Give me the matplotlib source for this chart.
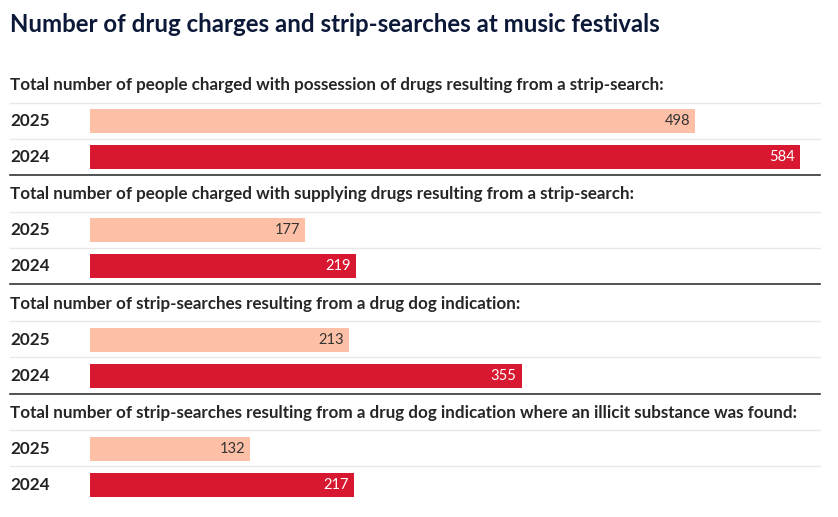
import matplotlib
matplotlib.use("Agg")
import matplotlib.pyplot as plt

TITLE = "Number of drug charges and strip-searches at music festivals"
HEADINGS = [
    "Total number of people charged with possession of drugs resulting from a strip-search:",
    "Total number of people charged with supplying drugs resulting from a strip-search:",
    "Total number of strip-searches resulting from a drug dog indication:",
    "Total number of strip-searches resulting from a drug dog indication where an illicit substance was found:",
]
YEARS = ["2025", "2024"]
VALUES_2025 = [498, 177, 213, 132]
VALUES_2024 = [584, 219, 355, 217]

COLORS = {"2025": "#fdc0a7", "2024": "#d81830"}
LABEL_COLORS = {"2025": "#333333", "2024": "#ffffff"}

W, H, DPI = 838, 517, 100
FONT = "Lato"

# layout in pixels (top-down)
GROUP_TOP = 85       # heading centre of first group
GROUP_STEP = 109.3
ROW_OFFSETS = [36, 72]
BAR_H = 24
LEFT, BAR_LEFT, BAR_RIGHT, RIGHT = 10, 90, 800, 820

fig = plt.figure(figsize=(W / DPI, H / DPI), dpi=DPI)
lay = fig.add_axes([0, 0, 1, 1])
lay.set_xlim(0, W)
lay.set_ylim(H, 0)
lay.axis("off")

bars = fig.add_axes([BAR_LEFT / W, 0, (BAR_RIGHT - BAR_LEFT) / W, 1])
bars.set_ylim(H, 0)
bars.axis("off")
bars.patch.set_alpha(0)

lay.text(LEFT, 25, TITLE, fontsize=17.3, fontweight="bold", color="#0b1838",
         family=FONT, va="center", ha="left")

series = {"2025": VALUES_2025, "2024": VALUES_2024}
for g, heading in enumerate(HEADINGS):
    top = GROUP_TOP + g * GROUP_STEP
    lay.text(LEFT, top, heading, fontsize=12.25, fontweight="bold", color="#262626",
             family=FONT, va="center", ha="left")
    for r, year in enumerate(YEARS):
        yc = top + ROW_OFFSETS[r]
        lay.plot([LEFT, RIGHT], [yc - 18.5, yc - 18.5], color="#e8e8e8", lw=1)
        lay.text(LEFT, yc, year, fontsize=12.3, fontweight="bold", color="#222222",
                 family=FONT, va="center", ha="left")
        val = series[year][g]
        bars.barh(yc, val, height=BAR_H, left=0, color=COLORS[year])
        bars.annotate(str(val), (val, yc), xytext=(-5, 0), textcoords="offset pixels",
                      ha="right", va="center", fontsize=10.6, color=LABEL_COLORS[year],
                      family=FONT)
    if g < len(HEADINGS) - 1:
        yl = top + 90
        lay.plot([LEFT, RIGHT], [yl, yl], color="#333333", lw=1.2)

bars.set_xlim(0, max(VALUES_2024 + VALUES_2025))

fig.savefig("out.png", dpi=DPI)
